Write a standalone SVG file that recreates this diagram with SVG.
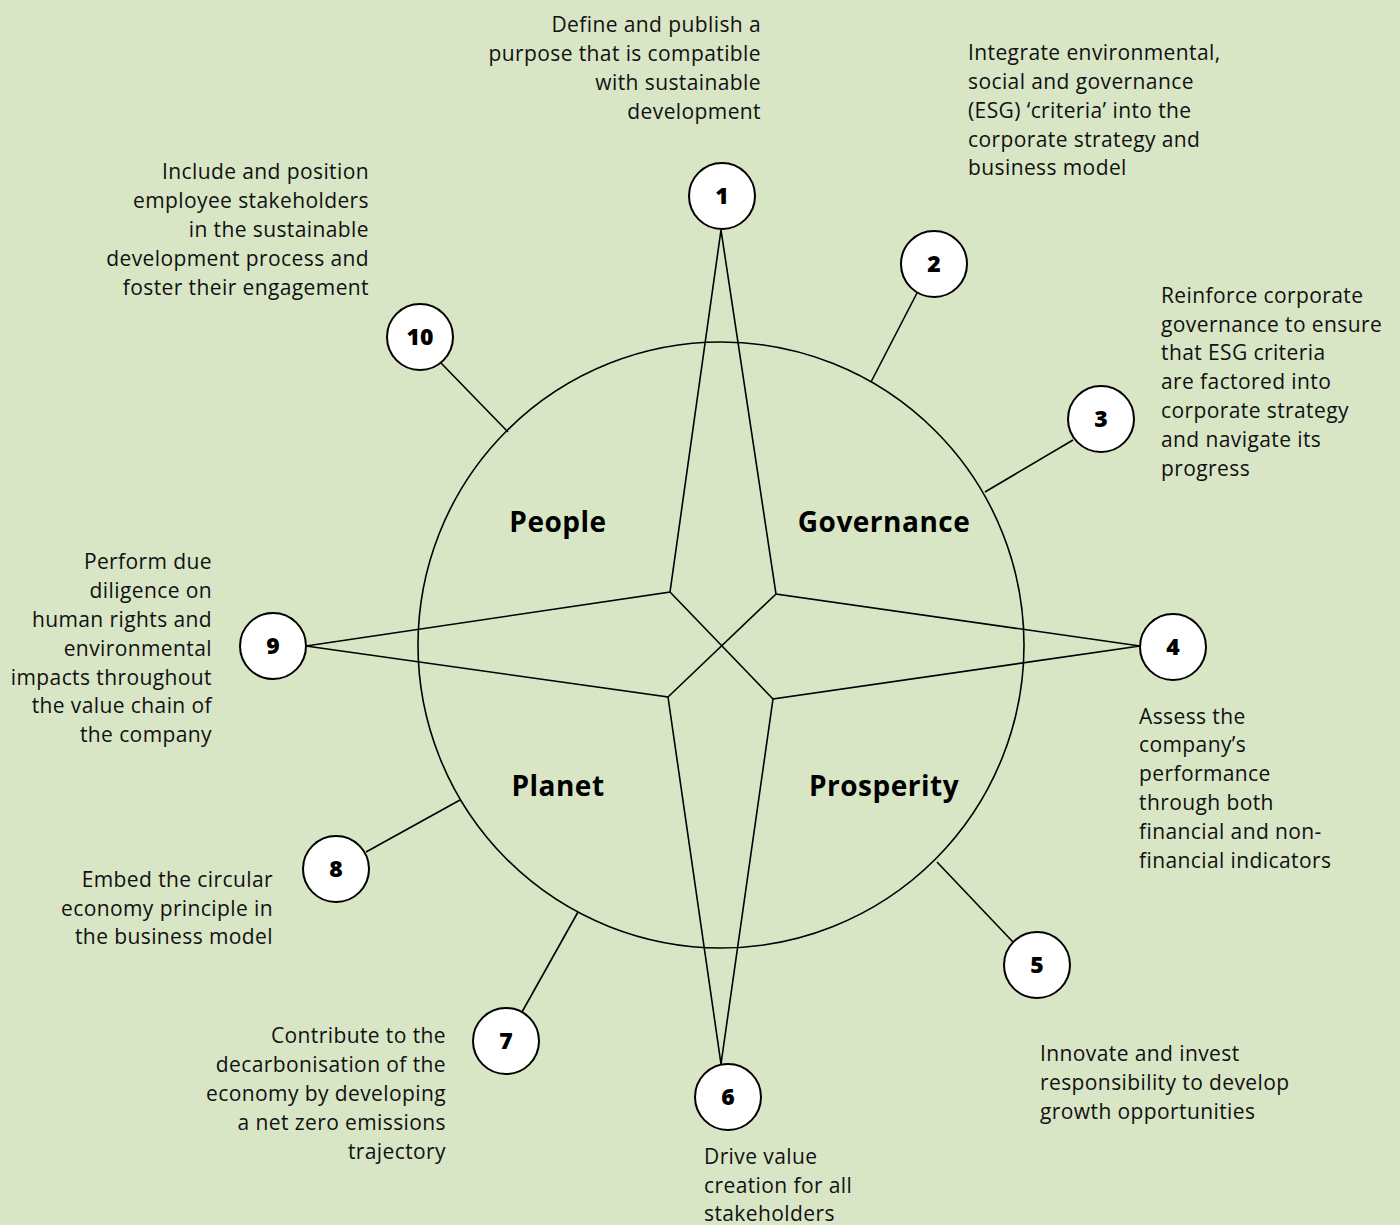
<svg xmlns="http://www.w3.org/2000/svg" width="1400" height="1225" viewBox="0 0 1400 1225">
<style>
.t{font-family:"Open Sans","Liberation Sans",sans-serif;font-size:21px;fill:#111;letter-spacing:0.4px}
.r{text-anchor:end}
.cat{font-family:"Open Sans","Liberation Sans",sans-serif;font-weight:bold;font-size:28px;fill:#000;text-anchor:middle;letter-spacing:0.5px}
.num{font-family:"Open Sans","Liberation Sans",sans-serif;font-weight:800;font-size:23px;fill:#000;text-anchor:middle}
.nc{fill:#fff;stroke:#000;stroke-width:2}
.ln{fill:none;stroke:#000;stroke-width:1.6}
</style>
<rect width="1400" height="1225" fill="#d8e6c6"/>
<g id="wheel">
<circle class="ln" cx="721" cy="645" r="303"/>
<polygon class="ln" points="721,230 776,594 1140,646 773,699 721,1064 668,697 306,646 670,592"/>
<line class="ln" x1="670" y1="592" x2="773" y2="699"/>
<line class="ln" x1="776" y1="594" x2="668" y2="697"/>
<text class="cat" x="558" y="532">People</text>
<text class="cat" x="884" y="532">Governance</text>
<text class="cat" x="558" y="796">Planet</text>
<text class="cat" x="884" y="796">Prosperity</text>
</g>
<g id="connectors">
<line class="ln" x1="917" y1="293" x2="871" y2="382"/>
<line class="ln" x1="1073" y1="440" x2="985" y2="492"/>
<line class="ln" x1="1013" y1="942" x2="937" y2="862"/>
<line class="ln" x1="522" y1="1012" x2="578" y2="912"/>
<line class="ln" x1="366" y1="852" x2="460" y2="800"/>
<line class="ln" x1="441" y1="363" x2="508" y2="432"/>
</g>
<g id="n1"><circle class="nc" cx="722" cy="196" r="33"/><text class="num" x="722" y="204">1</text>
<text class="t r" x="761" y="32">Define and publish a</text><text class="t r" x="761" y="61">purpose that is compatible</text><text class="t r" x="761" y="90">with sustainable</text><text class="t r" x="761" y="119">development</text></g>
<g id="n2"><circle class="nc" cx="934" cy="264" r="33"/><text class="num" x="934" y="272">2</text>
<text class="t" x="968" y="60">Integrate environmental,</text><text class="t" x="968" y="89">social and governance</text><text class="t" x="968" y="118">(ESG) ‘criteria’ into the</text><text class="t" x="968" y="147">corporate strategy and</text><text class="t" x="968" y="175">business model</text></g>
<g id="n3"><circle class="nc" cx="1101" cy="419" r="33"/><text class="num" x="1101" y="427">3</text>
<text class="t" x="1161" y="303">Reinforce corporate</text><text class="t" x="1161" y="332">governance to ensure</text><text class="t" x="1161" y="360">that ESG criteria</text><text class="t" x="1161" y="389">are factored into</text><text class="t" x="1161" y="418">corporate strategy</text><text class="t" x="1161" y="447">and navigate its</text><text class="t" x="1161" y="476">progress</text></g>
<g id="n4"><circle class="nc" cx="1173" cy="647" r="33"/><text class="num" x="1173" y="655">4</text>
<text class="t" x="1139" y="724">Assess the</text><text class="t" x="1139" y="752">company’s</text><text class="t" x="1139" y="781">performance</text><text class="t" x="1139" y="810">through both</text><text class="t" x="1139" y="839">financial and non-</text><text class="t" x="1139" y="868">financial indicators</text></g>
<g id="n5"><circle class="nc" cx="1037" cy="965" r="33"/><text class="num" x="1037" y="973">5</text>
<text class="t" x="1040" y="1061">Innovate and invest</text><text class="t" x="1040" y="1090">responsibility to develop</text><text class="t" x="1040" y="1119">growth opportunities</text></g>
<g id="n6"><circle class="nc" cx="728" cy="1097" r="33"/><text class="num" x="728" y="1105">6</text>
<text class="t" x="704" y="1164">Drive value</text><text class="t" x="704" y="1193">creation for all</text><text class="t" x="704" y="1221">stakeholders</text></g>
<g id="n7"><circle class="nc" cx="506" cy="1041" r="33"/><text class="num" x="506" y="1049">7</text>
<text class="t r" x="446" y="1043">Contribute to the</text><text class="t r" x="446" y="1072">decarbonisation of the</text><text class="t r" x="446" y="1101">economy by developing</text><text class="t r" x="446" y="1130">a net zero emissions</text><text class="t r" x="446" y="1159">trajectory</text></g>
<g id="n8"><circle class="nc" cx="336" cy="869" r="33"/><text class="num" x="336" y="877">8</text>
<text class="t r" x="273" y="887">Embed the circular</text><text class="t r" x="273" y="916">economy principle in</text><text class="t r" x="273" y="944">the business model</text></g>
<g id="n9"><circle class="nc" cx="273" cy="646" r="33"/><text class="num" x="273" y="654">9</text>
<text class="t r" x="212" y="569">Perform due</text><text class="t r" x="212" y="598">diligence on</text><text class="t r" x="212" y="627">human rights and</text><text class="t r" x="212" y="656">environmental</text><text class="t r" x="212" y="685">impacts throughout</text><text class="t r" x="212" y="713">the value chain of</text><text class="t r" x="212" y="742">the company</text></g>
<g id="n10"><circle class="nc" cx="420" cy="337" r="33"/><text class="num" x="420" y="345">10</text>
<text class="t r" x="369" y="179">Include and position</text><text class="t r" x="369" y="208">employee stakeholders</text><text class="t r" x="369" y="237">in the sustainable</text><text class="t r" x="369" y="266">development process and</text><text class="t r" x="369" y="295">foster their engagement</text></g>
</svg>
